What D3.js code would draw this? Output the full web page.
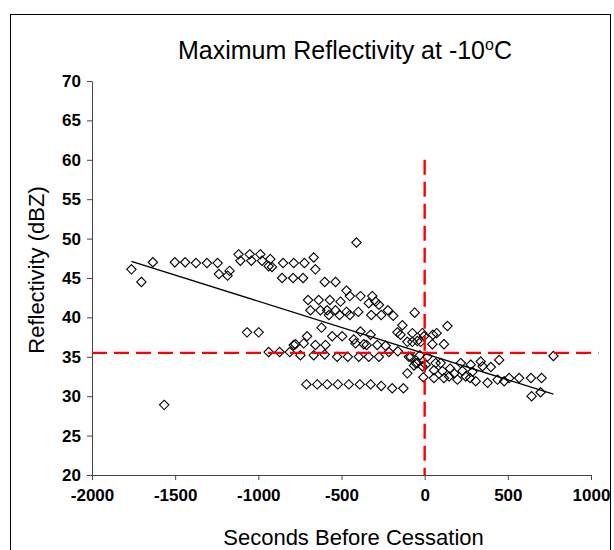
<!DOCTYPE html>
<html>
<head>
<meta charset="utf-8">
<script src="https://cdn.jsdelivr.net/npm/d3@7"></script>
<style>
  body { margin: 0; background: #fff; }
  svg { display: block; font-family: "Liberation Sans", Arial, sans-serif; }
  .axis path, .axis line { stroke: #444; }
  .axis text { font-size: 17px; font-weight: bold; fill: #000; }
</style>
</head>
<body>
<svg></svg>
<script>
'use strict';

var seconds = [
  -1763, -1703, -1634, -1566, -1502, -1440, -1375, -1309, -1245, -1237,
  -1185, -1173, -1119, -1108, -1068, -1052, -1042, -998, -988, -978,
  -938, -938, -928, -918, -872, -857, -851, -811, -791, -787,
  -787, -777, -747, -731, -727, -723, -711, -707, -701, -687,
  -667, -667, -657, -657, -646, -637, -627, -620, -601, -601,
  -596, -586, -586, -576, -570, -556, -536, -536, -526, -522,
  -512, -506, -496, -470, -470, -462, -456, -450, -450, -426,
  -416, -410, -399, -396, -390, -386, -386, -366, -349, -336,
  -336, -325, -325, -321, -315, -295, -285, -275, -275, -261,
  -261, -235, -221, -215, -195, -189, -164, -161, -145, -134,
  -128, -104, -104, -95, -84, -74, -74, -64, -60, -54,
  -44, -44, -28, -24, -14, -14, -8, -4, 6, 16,
  46, 50, 56, 56, 66, 72, 96, 107, 116, 116,
  137, 147, 153, 177, 197, 217, 227, 247, 273, 277,
  287, 307, 337, 348, 378, 398, 438, 448, 478, 508,
  568, 639, 643, 697, 703, 774
];

var reflectivity = [
  46.1, 44.5, 47.0, 28.9, 47.0, 47.0, 46.9, 46.9, 46.9, 45.5,
  45.3, 45.9, 48.0, 47.2, 38.1, 48.0, 47.2, 38.1, 48.0, 47.2,
  46.5, 35.6, 47.4, 46.4, 35.6, 45.0, 46.9, 35.6, 45.0, 46.9,
  36.5, 36.6, 35.2, 45.0, 36.7, 46.9, 31.5, 37.6, 42.2, 40.9,
  47.6, 35.2, 46.1, 36.5, 31.5, 42.2, 40.9, 38.7, 44.5, 35.3,
  36.5, 40.9, 31.5, 40.3, 42.2, 37.6, 44.5, 40.9, 35.0, 31.5,
  40.3, 42.0, 37.6, 43.4, 40.7, 35.0, 31.5, 42.7, 40.3, 37.2,
  36.7, 49.5, 40.7, 35.0, 31.5, 42.7, 38.2, 36.6, 36.5, 41.8,
  35.0, 37.8, 31.5, 40.3, 42.7, 42.0, 36.5, 41.6, 35.0, 40.3,
  31.3, 36.4, 40.9, 35.6, 31.0, 40.2, 38.1, 35.7, 37.8, 39.0,
  31.0, 36.9, 32.9, 35.0, 35.0, 38.0, 36.9, 33.9, 40.6, 34.2,
  37.0, 34.2, 35.2, 36.9, 38.0, 33.8, 32.4, 37.6, 34.0, 35.0,
  36.6, 37.8, 33.3, 32.3, 34.2, 38.0, 34.2, 33.2, 36.6, 32.3,
  38.9, 32.5, 33.5, 32.9, 32.1, 34.2, 33.2, 32.5, 32.3, 34.0,
  33.1, 31.9, 34.4, 33.8, 31.7, 33.7, 32.1, 34.6, 31.9, 32.3,
  32.3, 32.3, 30.0, 30.5, 32.3, 35.1
];

// linear trend (dBZ = slope * s + intercept)
var trendSlope = -0.00665;
var trendIntercept = 35.4;

// reference lines
var refReflectivity = 35.5;
var refSeconds = 0;
var refSecondsSpan = [20, 60];

var xTicks = [-2000, -1500, -1000, -500, 0, 500, 1000];
var yTicks = [20, 25, 30, 35, 40, 45, 50, 55, 60, 65, 70];

draw();

function draw() {
  var W = 614, H = 550,
    M = { left: 92, right: 23, top: 81, bottom: 75 },
    WIDTH = W - M.left - M.right,
    HEIGHT = H - M.top - M.bottom;

  var svg = d3.select('svg')
    .attr('width', W)
    .attr('height', H);

  // outer frame
  svg.append('rect')
    .attr('x', 10.5)
    .attr('y', 14.5)
    .attr('width', 600)
    .attr('height', 560)
    .attr('fill', 'none')
    .attr('stroke', '#000')
    .attr('stroke-width', 1);

  var xScale = d3.scaleLinear().domain([-2000, 1000]).range([0, WIDTH]);
  var yScale = d3.scaleLinear().domain([20, 70]).range([HEIGHT, 0]);

  var g = svg.append('g')
    .attr('transform', 'translate(' + M.left + ',' + M.top + ')');

  var xAxis = d3.axisBottom(xScale)
    .tickValues(xTicks)
    .tickFormat(function(t) { return String(t); })
    .tickSize(5)
    .tickPadding(9)
    .tickSizeOuter(0);

  var yAxis = d3.axisLeft(yScale)
    .tickValues(yTicks)
    .tickFormat(function(t) { return String(t); })
    .tickSize(5)
    .tickPadding(6)
    .tickSizeOuter(0);

  g.append('g')
    .attr('class', 'x axis')
    .attr('transform', 'translate(0,' + HEIGHT + ')')
    .call(xAxis);

  g.append('g')
    .attr('class', 'y axis')
    .call(yAxis);

  var data = seconds.map(function(s, i) {
    return { s: s, v: reflectivity[i] };
  });

  var diamond = d3.symbol().type(d3.symbolDiamond2).size(56);

  g.append('g')
    .selectAll('path')
    .data(data)
    .enter()
    .append('path')
    .attr('d', diamond)
    .attr('transform', function(d) {
      return 'translate(' + xScale(d.s) + ',' + yScale(d.v) + ')';
    })
    .attr('fill', 'none')
    .attr('stroke', '#000')
    .attr('stroke-width', 1.1);

  var ext = d3.extent(seconds);
  var trend = ext.map(function(s) { return [s, trendSlope * s + trendIntercept]; });

  g.append('path')
    .datum(trend)
    .attr('d', d3.line()
      .x(function(d) { return xScale(d[0]); })
      .y(function(d) { return yScale(d[1]); }))
    .attr('fill', 'none')
    .attr('stroke', '#000')
    .attr('stroke-width', 1.3);

  // red dashed reference lines
  g.append('line')
    .attr('x1', xScale(-2000))
    .attr('x2', xScale(1045))
    .attr('y1', yScale(refReflectivity))
    .attr('y2', yScale(refReflectivity))
    .attr('stroke', '#f00')
    .attr('stroke-width', 2.4)
    .attr('stroke-dasharray', '15,7');

  g.append('line')
    .attr('x1', xScale(refSeconds))
    .attr('x2', xScale(refSeconds))
    .attr('y1', yScale(refSecondsSpan[1]))
    .attr('y2', yScale(refSecondsSpan[0]))
    .attr('stroke', '#f00')
    .attr('stroke-width', 2.4)
    .attr('stroke-dasharray', '15,7');

  // titles
  var title = svg.append('text')
    .attr('x', 345)
    .attr('y', 59)
    .attr('text-anchor', 'middle')
    .style('font-size', '25px');
  title.append('tspan').text('Maximum Reflectivity at -10');
  title.append('tspan').attr('dy', -9).style('font-size', '16px').text('o');
  title.append('tspan').attr('dy', 9).text('C');

  svg.append('text')
    .attr('x', M.left + WIDTH / 2 + 12)
    .attr('y', 545)
    .attr('text-anchor', 'middle')
    .style('font-size', '22px')
    .text('Seconds Before Cessation');

  svg.append('text')
    .attr('transform', 'translate(44,' + (M.top + HEIGHT / 2 - 8) + ') rotate(-90)')
    .attr('text-anchor', 'middle')
    .style('font-size', '22px')
    .text('Reflectivity (dBZ)');
}
</script>
</body>
</html>
